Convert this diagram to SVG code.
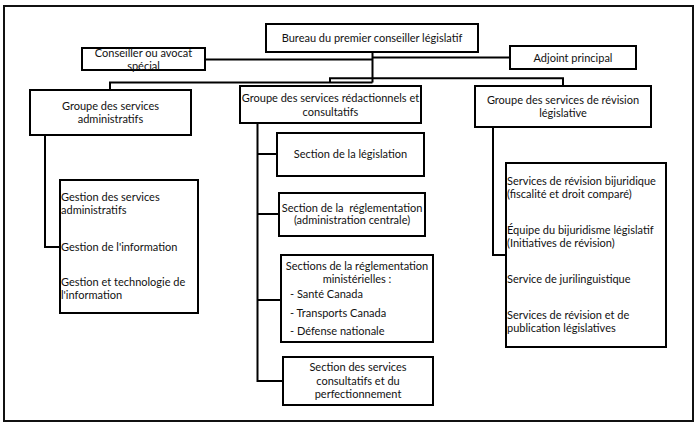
<svg xmlns="http://www.w3.org/2000/svg" width="700" height="428" viewBox="0 0 700 428">
<style>
.box{fill:#fff;stroke:#000;stroke-width:2}
.ln{fill:none;stroke:#000;stroke-width:2}
text{font-family:Lato,"Liberation Sans",sans-serif;font-size:11px;fill:#111}
.c{text-anchor:middle}
</style>
<rect x="0" y="0" width="700" height="428" fill="#fff"/>
<rect x="4" y="6" width="689" height="415" fill="none" stroke="#111" stroke-width="2"/>
<g id="connectors">
<path class="ln" d="M205,59.5H372.5M372.5,52V82.5M372.5,57.5H510"/>
<path class="ln" d="M110,90V82.5H372.5M330,82.5V78.3H563V86"/>
<path class="ln" d="M45,135V247H60"/>
<path class="ln" d="M257.5,123V381H283M257.5,154H277M257.5,214H279M257.5,300H281"/>
<path class="ln" d="M493,127V255H506"/>
</g>
<g id="bureau"><rect class="box" x="266" y="24" width="212" height="28"/><text class="c" x="372" y="42">Bureau du premier conseiller législatif</text></g>
<g id="conseiller"><rect class="box" x="82" y="48" width="123" height="22"/><text class="c" x="143.5" y="57">Conseiller ou avocat</text><text class="c" x="143.5" y="70">spécial</text></g>
<g id="adjoint"><rect class="box" x="510" y="46" width="126" height="23"/><text class="c" x="573" y="61.5">Adjoint principal</text></g>
<g id="admin"><rect class="box" x="30" y="90" width="161" height="45"/><text class="c" x="110.5" y="109.5">Groupe des services</text><text class="c" x="110.5" y="123">administratifs</text></g>
<g id="redac"><rect class="box" x="240" y="86" width="181" height="37"/><text class="c" x="330.5" y="102">Groupe des services rédactionnels et</text><text class="c" x="330.5" y="115.5">consultatifs</text></g>
<g id="revision"><rect class="box" x="475" y="86" width="176" height="41"/><text class="c" x="563" y="104">Groupe des services de révision</text><text class="c" x="563" y="117">législative</text></g>
<g id="admin-sub"><rect class="box" x="60" y="180" width="138" height="133"/>
<text x="61" y="201">Gestion des services</text><text x="61" y="214">administratifs</text>
<text x="61" y="251">Gestion de l'information</text>
<text x="61" y="286">Gestion et technologie de</text><text x="61" y="299">l'information</text></g>
<g id="legislation"><rect class="box" x="277" y="133" width="147" height="43"/><text class="c" x="350.5" y="158">Section de la législation</text></g>
<g id="reglementation"><rect class="box" x="279" y="193" width="146" height="43"/><text class="c" x="352" y="212" xml:space="preserve">Section de la  réglementation</text><text class="c" x="352" y="224">(administration centrale)</text></g>
<g id="ministerielles"><rect class="box" x="281" y="255" width="152" height="87"/><text class="c" x="357" y="270">Sections de la réglementation</text><text class="c" x="357" y="283">ministérielles :</text><text x="290" y="298">- Santé Canada</text><text x="290" y="317">- Transports Canada</text><text x="290" y="335">- Défense nationale</text></g>
<g id="consultatifs"><rect class="box" x="283" y="357" width="150" height="48"/><text class="c" x="358" y="371">Section des services</text><text class="c" x="358" y="385">consultatifs et du</text><text class="c" x="358" y="398">perfectionnement</text></g>
<g id="revision-sub"><rect class="box" x="506" y="163" width="160" height="184"/>
<text x="507" y="185">Services de révision bijuridique</text><text x="507" y="198">(fiscalité et droit comparé)</text>
<text x="507" y="234">Équipe du bijuridisme législatif</text><text x="507" y="247">(Initiatives de révision)</text>
<text x="507" y="283">Service de jurilinguistique</text>
<text x="507" y="319">Services de révision et de</text><text x="507" y="332">publication législatives</text></g>
</svg>
